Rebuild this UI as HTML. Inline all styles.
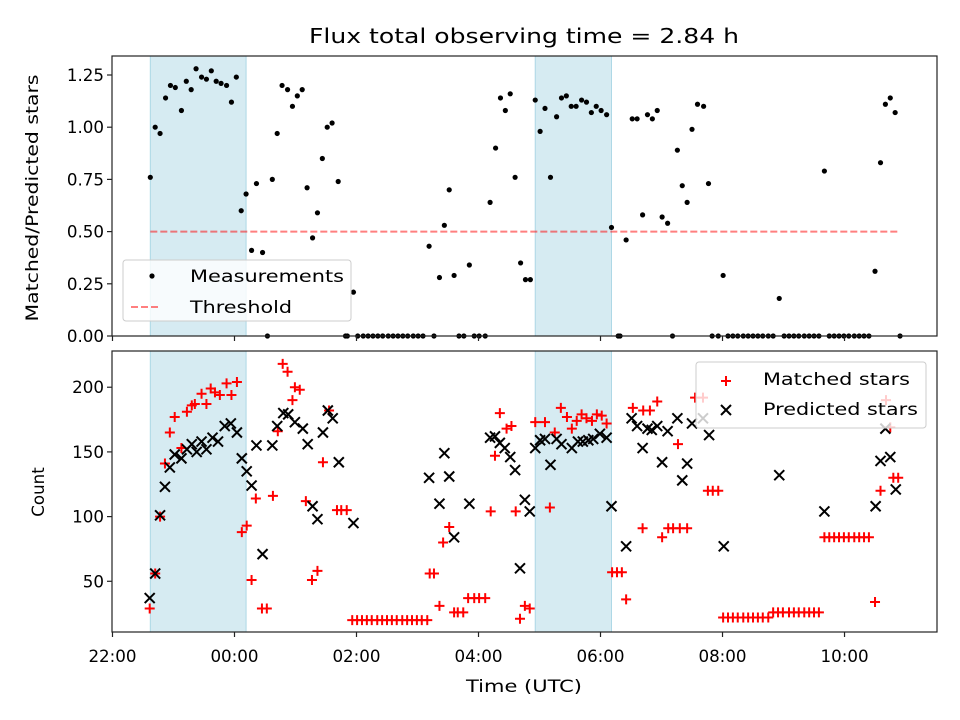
<!DOCTYPE html>
<html><head><meta charset="utf-8"><style>
body{margin:0;background:#fff}
svg{display:block;font-family:"DejaVu Sans","Liberation Sans",sans-serif}
</style></head><body>
<svg id="chart" width="960" height="720" viewBox="0 0 960 720"></svg>
<script>
// ---- data (hours since 22:00 UTC) ----
const spanStarts = [0.62, 6.93];
const spanEnds = [2.19, 8.18];
const thresholdValue = 0.5;
const thresholdRange = [0.62, 12.91];
const ratioTimes = [0.62,0.70,0.78,0.87,0.95,1.03,1.13,1.21,1.29,1.37,1.46,1.54,1.62,1.70,1.78,1.87,1.95,2.03,2.11,2.19,2.28,2.36,2.46,2.54,2.62,2.70,2.78,2.87,2.95,3.03,3.11,3.19,3.28,3.36,3.44,3.52,3.60,3.70,3.82,3.85,3.95,4.02,4.11,4.19,4.27,4.35,4.43,4.52,4.60,4.68,4.76,4.84,4.93,5.01,5.09,5.19,5.27,5.36,5.44,5.52,5.60,5.68,5.76,5.85,5.93,6.01,6.11,6.19,6.28,6.36,6.44,6.52,6.60,6.69,6.77,6.85,6.93,7.01,7.09,7.18,7.28,7.36,7.44,7.52,7.60,7.69,7.77,7.85,7.93,8.01,8.10,8.18,8.29,8.32,8.42,8.52,8.60,8.69,8.77,8.85,8.93,9.01,9.10,9.18,9.26,9.34,9.42,9.50,9.59,9.69,9.77,9.83,9.93,10.01,10.09,10.17,10.25,10.34,10.42,10.50,10.58,10.66,10.75,10.83,10.93,11.01,11.09,11.17,11.25,11.34,11.42,11.50,11.58,11.67,11.75,11.83,11.91,11.99,12.07,12.16,12.24,12.32,12.40,12.50,12.59,12.67,12.75,12.83,12.91];
const ratioValues = [0.76,1.00,0.97,1.14,1.20,1.19,1.08,1.22,1.18,1.28,1.24,1.23,1.27,1.22,1.21,1.20,1.12,1.24,0.60,0.68,0.41,0.73,0.40,0,0.75,0.97,1.20,1.18,1.10,1.15,1.18,0.71,0.47,0.59,0.85,1.00,1.02,0.74,0,0,0.21,0,0,0,0,0,0,0,0,0,0,0,0,0,0,0.43,0,0.28,0.53,0.70,0.29,0,0,0.34,0,0,0,0.64,0.90,1.14,1.08,1.16,0.76,0.35,0.27,0.27,1.13,0.98,1.09,0.76,1.05,1.14,1.15,1.10,1.10,1.13,1.12,1.07,1.10,1.08,1.06,0.52,0,0,0.46,1.04,1.04,0.58,1.06,1.04,1.08,0.57,0.54,0,0.89,0.72,0.64,0.99,1.11,1.10,0.73,0,0,0.29,0,0,0,0,0,0,0,0,0,0,0.18,0,0,0,0,0,0,0,0,0.79,0,0,0,0,0,0,0,0,0,0.31,0.83,1.11,1.14,1.07,0];
const matchedTimes = [0.61,0.70,0.78,0.86,0.94,1.02,1.13,1.22,1.30,1.35,1.46,1.54,1.61,1.68,1.76,1.87,1.95,2.04,2.12,2.20,2.28,2.35,2.45,2.53,2.63,2.71,2.79,2.87,2.95,2.99,3.07,3.17,3.27,3.36,3.45,3.55,3.68,3.75,3.84,3.93,4.01,4.09,4.17,4.25,4.34,4.42,4.50,4.58,4.66,4.75,4.83,4.91,4.99,5.07,5.16,5.20,5.27,5.36,5.42,5.52,5.60,5.66,5.75,5.83,5.93,6.01,6.11,6.20,6.27,6.35,6.46,6.54,6.61,6.68,6.76,6.84,6.93,7.09,7.17,7.25,7.35,7.45,7.53,7.61,7.69,7.77,7.86,7.94,8.02,8.10,8.19,8.27,8.35,8.42,8.53,8.70,8.81,8.93,8.69,9.01,9.11,9.19,9.30,9.42,9.27,9.55,9.68,9.76,9.84,9.93,10.01,10.09,10.17,10.25,10.34,10.42,10.50,10.58,10.66,10.75,10.83,10.91,10.99,11.09,11.17,11.25,11.34,11.42,11.50,11.58,11.67,11.75,11.83,11.91,11.99,12.07,12.16,12.24,12.32,12.40,12.50,12.59,12.68,12.75,12.80,12.88];
const matchedValues = [29,56,100,141,165,177,153,181,186,187,195,187,199,196,194,203,194,204,88,93,51,114,29,29,116,166,218,212,190,200,198,112,51,58,142,182,105,105,105,20,20,20,20,20,20,20,20,20,20,20,20,20,20,20,20,56,56,31,80,92,26,26,26,37,37,37,37,104,147,180,168,170,104,21,31,29,173,173,107,165,184,177,168,174,179,176,174,179,178,172,57,57,57,36,184,182,182,189,91,84,91,91,91,91,156,192,192,120,120,120,22,22,22,22,22,22,22,22,22,22,26,26,26,26,26,26,26,26,26,26,84,84,84,84,84,84,84,84,84,84,34,120,190,169,130,130];
const predictedTimes = [0.61,0.70,0.78,0.86,0.94,1.02,1.13,1.22,1.30,1.38,1.46,1.54,1.64,1.73,1.84,1.94,2.04,2.12,2.20,2.28,2.36,2.46,2.62,2.70,2.80,2.88,2.99,3.12,3.20,3.28,3.36,3.45,3.53,3.61,3.71,3.95,5.19,5.36,5.44,5.52,5.60,5.85,6.19,6.27,6.35,6.43,6.52,6.60,6.68,6.76,6.84,6.93,7.01,7.09,7.18,7.28,7.36,7.53,7.63,7.71,7.80,7.88,7.99,8.10,8.18,8.42,8.51,8.60,8.69,8.77,8.84,8.93,9.01,9.10,9.26,9.34,9.42,9.50,9.68,9.78,10.02,10.93,11.67,12.51,12.59,12.67,12.75,12.84];
const predictedValues = [37,56,101,123,138,148,145,152,156,150,158,152,161,158,170,172,165,145,135,124,155,71,155,170,180,179,173,168,156,108,98,165,182,176,142,95,130,110,149,131,84,110,161,162,157,153,146,136,60,113,104,153,159,160,140,160,156,153,158,158,159,160,164,161,108,77,176,170,153,168,167,170,142,166,176,128,141,172,176,163,77,132,104,108,143,168,146,121];
const xTickValues = [0,2,4,6,8,10,12];
const xTickLabels = ["22:00","00:00","02:00","04:00","06:00","08:00","10:00"];
const topTickValues = [0,0.25,0.5,0.75,1.0,1.25];
const topTickLabels = ["0.00","0.25","0.50","0.75","1.00","1.25"];
const botTickValues = [50,100,150,200];
const botTickLabels = ["50","100","150","200"];

const NS = "http://www.w3.org/2000/svg";
const svg = document.getElementById("chart");
function mk(tag, attrs, parent){const e=document.createElementNS(NS,tag);for(const k in attrs)e.setAttribute(k,attrs[k]);(parent||svg).appendChild(e);return e;}
const L=112, R=937, T1=56, B1=336, T2=351, B2=632;
const xMin=-0.008, xMax=13.516;
const FS=16.7;
const xs = h => L + (h - xMin) / (xMax - xMin) * (R - L);
const y1 = v => B1 - (v - 0) / 1.341 * (B1 - T1);
const y2 = c => B2 - (c - 10.8) / (228 - 10.8) * (B2 - T2);

function panel(T,B,name){
  const g=mk("g",{});
  
  
  for(let i=0;i<spanStarts.length;i++){
    const r=mk("rect",{x:xs(spanStarts[i]),y:T,width:xs(spanEnds[i])-xs(spanStarts[i]),height:B-T,fill:"#add8e6","fill-opacity":0.5,stroke:"#add8e6","stroke-width":1},g);
    
    
  }
  return g;
}
const gTop=panel(T1,B1,'top-panel');
const gBot=panel(T2,B2,'bottom-panel');

const th=mk("line",{x1:xs(thresholdRange[0]),x2:xs(thresholdRange[1]),y1:y1(thresholdValue),y2:y1(thresholdValue),stroke:"rgba(255,0,0,0.5)","stroke-width":2,"stroke-dasharray":"7,3"},gTop);



for(let i=0;i<ratioTimes.length;i++){
  const c=mk("circle",{cx:xs(ratioTimes[i]),cy:y1(ratioValues[i]),r:2.6,fill:"#000"},gTop);
  
  
}
for(let i=0;i<matchedTimes.length;i++){
  const x=xs(matchedTimes[i]), y=y2(matchedValues[i]);
  const p=mk("path",{d:`M${x-5},${y}H${x+5}M${x},${y-5}V${y+5}`,stroke:"#ff0000","stroke-width":2,fill:"none"},gBot);
  
  
}
for(let i=0;i<predictedTimes.length;i++){
  const x=xs(predictedTimes[i]), y=y2(predictedValues[i]);
  const p=mk("path",{d:`M${x-5},${y-5}L${x+5},${y+5}M${x-5},${y+5}L${x+5},${y-5}`,stroke:"#000","stroke-width":2,fill:"none"},gBot);
  
  
}

[[T1,B1],[T2,B2]].forEach(([T,B],k)=>{
  const f=mk("rect",{x:L,y:T,width:R-L,height:B-T,fill:"none",stroke:"#222","stroke-width":1.2});
  
  
  xTickValues.forEach(v=>{mk("line",{x1:xs(v),x2:xs(v),y1:B,y2:B+5,stroke:"#222","stroke-width":1.2});});
});
xTickValues.forEach((v,i)=>{
  const t=mk("text",{x:xs(v),y:662,"font-size":FS,"text-anchor":"middle"});t.textContent=xTickLabels[i];
  
  
});
topTickValues.forEach((v,i)=>{
  mk("line",{x1:L-5,x2:L,y1:y1(v),y2:y1(v),stroke:"#222","stroke-width":1.2});
  const t=mk("text",{x:L-8,y:y1(v)+6,"font-size":FS,"text-anchor":"end"});t.textContent=topTickLabels[i];
  
  
});
botTickValues.forEach((v,i)=>{
  mk("line",{x1:L-5,x2:L,y1:y2(v),y2:y2(v),stroke:"#222","stroke-width":1.2});
  const t=mk("text",{x:L-8,y:y2(v)+6,"font-size":FS,"text-anchor":"end"});t.textContent=botTickLabels[i];
  
  
});
</script>
<svg width="960" height="720" style="position:absolute;left:0;top:0;font-family:'DejaVu Sans','Liberation Sans',sans-serif">
  <text x="524" y="43" font-size="20" text-anchor="middle" textLength="430" lengthAdjust="spacingAndGlyphs">Flux total observing time = 2.84 h</text>
  <text x="524" y="692" font-size="16.7" text-anchor="middle" textLength="116" lengthAdjust="spacingAndGlyphs">Time (UTC)</text>
  <text transform="translate(38,198) rotate(-90)" font-size="16.7" text-anchor="middle" textLength="247" lengthAdjust="spacingAndGlyphs">Matched/Predicted stars</text>
  <text transform="translate(44,492) rotate(-90)" font-size="16.7" text-anchor="middle">Count</text>
  <g>
    <rect x="123" y="260" width="228" height="61" rx="3" fill="#fff" fill-opacity="0.8" stroke="#ccc"/>
    <circle cx="152" cy="276" r="2.6" fill="#000"/>
    <text x="190" y="282" font-size="16.7" textLength="154" lengthAdjust="spacingAndGlyphs">Measurements</text>
    <line x1="131" x2="161" y1="307" y2="307" stroke="rgba(255,0,0,0.5)" stroke-width="2" stroke-dasharray="7,3"/>
    <text x="190" y="313" font-size="16.7" textLength="102" lengthAdjust="spacingAndGlyphs">Threshold</text>
  </g>
  <g>
    <rect x="696" y="362" width="230" height="66" rx="3" fill="#fff" fill-opacity="0.8" stroke="#ccc"/>
    <path d="M721,381H731M726,376V386" stroke="#f00" stroke-width="2" fill="none"/>
    <text x="763" y="385" font-size="16.7" textLength="147" lengthAdjust="spacingAndGlyphs">Matched stars</text>
    <path d="M721,405L731,415M721,415L731,405" stroke="#000" stroke-width="2" fill="none"/>
    <text x="763" y="415" font-size="16.7" textLength="155" lengthAdjust="spacingAndGlyphs">Predicted stars</text>
  </g>
</svg>
</body></html>
